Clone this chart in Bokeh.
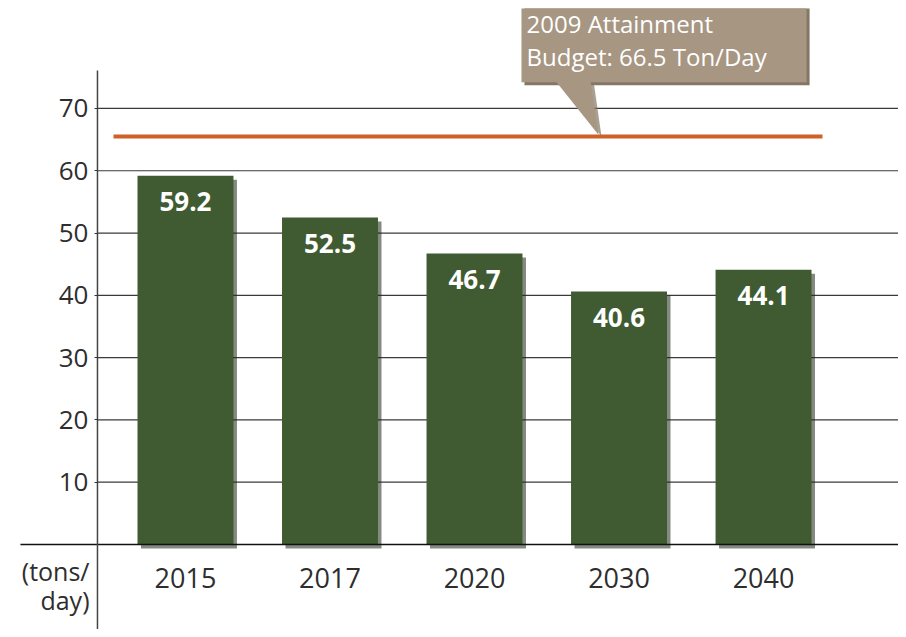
from bokeh.plotting import figure
from bokeh.models import LinearAxis, FixedTicker, Range1d
from bokeh.core.properties import value
from bokeh.embed import file_html
from bokeh.resources import INLINE

# ---------------- data ----------------
years = ["2015", "2017", "2020", "2030", "2040"]
emissions = [59.2, 52.5, 46.7, 40.6, 44.1]
y_ticks = [10, 20, 30, 40, 50, 60, 70]
budget_line = 65.5
callout_lines = ["2009 Attainment", "Budget: 66.5 Ton/Day"]
unit_label = "(tons/\nday)"

# ---------------- layout / style ----------------
FONT = "Open Sans"
BAR_COLOR = "#405b31"
SHADOW_COLOR = "#1e2918"
ORANGE = "#cf6127"
CALLOUT = "#a69682"
CALLOUT_SHADOW = "#857766"
TEXT_COLOR = "#2e2e2e"

px_x = 144.5          # pixels per x unit
px_y = 436.0 / 70.0   # pixels per y unit
X0, X1 = -1.197, 4.934
Y0, Y1 = -13.65, 86.05
axis_x = -0.609
bar_w = 0.664

x = list(range(len(years)))

p = figure(width=898, height=629, output_backend="svg", toolbar_location=None,
           x_range=Range1d(X0, X1), y_range=Range1d(Y0, Y1),
           x_axis_type=None, y_axis_type=None,
           min_border_left=12, min_border_right=0, min_border_top=8, min_border_bottom=0)
p.outline_line_color = None
p.background_fill_color = "white"
p.border_fill_color = "white"

# gridlines from the axis to the right edge
p.segment(x0=[axis_x] * len(y_ticks), x1=[X1] * len(y_ticks), y0=y_ticks, y1=y_ticks,
          line_color="#3a3a3a", line_width=1.2)

# orange budget line
p.segment(x0=[-0.498], x1=[4.408], y0=[budget_line], y1=[budget_line],
          line_color=ORANGE, line_width=4)

# bar shadows
dx = 3.5 / px_x
dy = 4.0 / px_y
p.quad(left=[i - bar_w / 2 + dx for i in x], right=[i + bar_w / 2 + dx for i in x],
       top=[v - dy for v in emissions], bottom=[-dy] * len(x),
       fill_color=SHADOW_COLOR, fill_alpha=0.55, line_color=None)
# bars
p.vbar(x=x, top=emissions, width=bar_w, bottom=0,
       fill_color=BAR_COLOR, line_color=None)

# baseline
p.segment(x0=[-1.142], x1=[X1], y0=[0], y1=[0], line_color="#111111", line_width=1.6)
# y axis line
p.segment(x0=[axis_x], x1=[axis_x], y0=[76.1], y1=[Y0], line_color="#444444", line_width=1.5)

# bar value labels
p.text(x=x, y=emissions, text=[f"{v:.1f}" for v in emissions], y_offset=26,
       text_align="center", text_baseline="middle", text_color="white",
       text_font=value(FONT), text_font_style="bold", text_font_size="26px")

# units label
p.text(x=[-0.664], y=[-6.6], text=[unit_label], text_align="right",
       text_baseline="middle", text_color=TEXT_COLOR, text_font=value(FONT),
       text_font_size="25px", text_line_height=0.85)

# callout
c_left, c_right, c_top, c_bot = 2.325, 4.298, 87.0, 74.2
sdx = 3 / px_x
sdy = 3 / px_y
p.quad(left=[c_left + sdx], right=[c_right + sdx], top=[c_top - sdy], bottom=[c_bot - sdy],
       fill_color=CALLOUT_SHADOW, line_color=None)
p.patch(x=[2.561 + sdx, 2.803 + sdx, 2.858 + sdx], y=[c_bot + 0.2, c_bot + 0.2, budget_line],
        fill_color=CALLOUT_SHADOW, line_color=None, fill_alpha=0.7)
p.quad(left=[c_left], right=[c_right], top=[c_top], bottom=[c_bot],
       fill_color=CALLOUT, line_color=None)
p.patch(x=[2.561, 2.803, 2.858], y=[c_bot + 0.2, c_bot + 0.2, budget_line + 0.3],
        fill_color=CALLOUT, line_color=None)
p.text(x=[2.36, 2.36], y=[83.7, 78.4], text=callout_lines, text_align="left",
       text_baseline="middle", text_color="white", text_font=value(FONT),
       text_font_size="24px")

# axes
yaxis = LinearAxis(fixed_location=axis_x, ticker=FixedTicker(ticks=y_ticks),
                   axis_line_color=None, major_tick_out=3, major_tick_in=0,
                   major_tick_line_color="#333333", minor_tick_line_color=None,
                   major_label_standoff=6, major_label_text_font=FONT,
                   major_label_text_font_size="26px", major_label_text_color=TEXT_COLOR)
p.add_layout(yaxis, "left")

xaxis = LinearAxis(fixed_location=0, ticker=FixedTicker(ticks=x),
                   major_label_overrides={i: yr for i, yr in enumerate(years)},
                   axis_line_color=None, major_tick_line_color=None,
                   minor_tick_line_color=None, major_label_standoff=18,
                   major_label_text_font=FONT, major_label_text_font_size="27px",
                   major_label_text_color=TEXT_COLOR)
p.add_layout(xaxis, "below")

open("out.html", "w").write(file_html(p, INLINE))
